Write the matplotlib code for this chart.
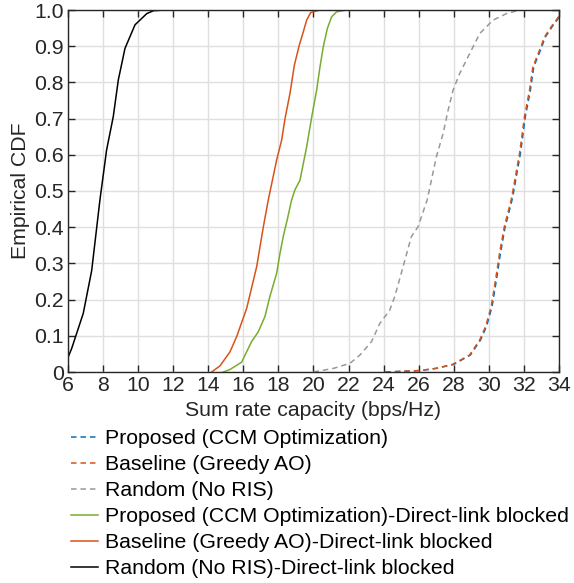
#!/usr/bin/env python3

''' Empirical CDF of sum rate capacity '''
import numpy as np
import matplotlib
matplotlib.use('Agg')
from matplotlib import pyplot as plt

plt.rcParams['font.family'] = ['Liberation Sans', 'DejaVu Sans']

# Curves (x in bps/Hz, y = empirical CDF)
prop_x = [24.1, 26.1, 27.0, 28.0, 28.95, 29.52, 29.86, 30.18, 30.43, 30.66, 30.93,
          31.32, 31.42, 31.80, 32.08, 32.37, 32.56, 32.94, 33.23, 33.61, 33.89, 34.08]
prop_y = [0.0, 0.004, 0.01, 0.021, 0.047, 0.088, 0.125, 0.18, 0.254, 0.328, 0.401,
          0.475, 0.50, 0.604, 0.705, 0.779, 0.843, 0.889, 0.926, 0.954, 0.972, 0.986]

base_x = [24.1, 26.05, 26.98, 27.93, 28.9, 29.47, 29.81, 30.13, 30.38, 30.61, 30.88,
          31.27, 31.37, 31.75, 32.03, 32.32, 32.51, 32.89, 33.18, 33.56, 33.84, 34.04]
base_y = [0.0, 0.004, 0.01, 0.021, 0.047, 0.088, 0.125, 0.18, 0.254, 0.328, 0.401,
          0.475, 0.50, 0.604, 0.705, 0.779, 0.843, 0.889, 0.926, 0.954, 0.972, 0.986]

rand_x = [20.0, 21.14, 22.08, 22.65, 23.31, 23.78, 24.35, 24.63, 25.11, 25.58, 25.96,
          26.48, 27.01, 27.39, 27.68, 27.96, 28.34, 28.91, 29.48, 30.24, 31.0, 31.77]
rand_y = [0.0, 0.01, 0.024, 0.047, 0.084, 0.134, 0.171, 0.208, 0.291, 0.374, 0.401,
          0.475, 0.595, 0.659, 0.724, 0.779, 0.825, 0.88, 0.935, 0.972, 0.99, 1.0]

prop_blk_x = [14.86, 15.24, 15.9, 16.19, 16.47, 16.85, 17.23, 17.51, 17.9, 18.09, 18.3,
              18.5, 18.75, 18.94, 19.23, 19.61, 19.9, 20.18, 20.37, 20.56, 20.79,
              21.03, 21.32, 21.89]
prop_blk_y = [0.0, 0.007, 0.027, 0.056, 0.084, 0.111, 0.153, 0.208, 0.273, 0.328, 0.38,
              0.42, 0.475, 0.503, 0.53, 0.622, 0.705, 0.779, 0.843, 0.899, 0.949,
              0.981, 0.995, 1.0]

base_blk_x = [14.19, 14.67, 15.24, 15.62, 16.19, 16.76, 17.14, 17.42, 17.9, 18.18,
              18.38, 18.66, 18.91, 19.19, 19.42, 19.61, 19.84, 20.37]
base_blk_y = [0.0, 0.017, 0.056, 0.098, 0.176, 0.291, 0.401, 0.475, 0.586, 0.64,
              0.701, 0.77, 0.848, 0.903, 0.94, 0.972, 0.993, 1.0]

rand_blk_x = [6.0, 6.21, 6.87, 7.35, 7.82, 8.2, 8.58, 8.87, 9.25, 9.82, 10.49, 10.87, 11.53]
rand_blk_y = [0.04, 0.065, 0.162, 0.28, 0.475, 0.613, 0.705, 0.807, 0.894, 0.959, 0.99,
              0.998, 1.0]

labels = ['Proposed (CCM Optimization)',
          'Baseline (Greedy AO)',
          'Random (No RIS)',
          'Proposed (CCM Optimization)-Direct-link blocked',
          'Baseline (Greedy AO)-Direct-link blocked',
          'Random (No RIS)-Direct-link blocked']

fs = 15.3
fig = plt.figure(figsize=(5.74, 5.83), dpi=100)
ax = fig.add_axes([68/574, 1-372/583, 491/574, 362/583])

lw = 1.1
dash = (0, (3.6, 2.6))
ax.plot(prop_x, prop_y, color='#0072BD', lw=lw, linestyle=dash, label=labels[0])
ax.plot(base_x, base_y, color='#D95319', lw=lw, linestyle=dash, label=labels[1])
ax.plot(rand_x, rand_y, color='#999999', lw=lw, linestyle=dash, label=labels[2])
ax.plot(prop_blk_x, prop_blk_y, color='#77AC30', lw=lw, label=labels[3])
ax.plot(base_blk_x, base_blk_y, color='#D95319', lw=lw, label=labels[4])
ax.plot(rand_blk_x, rand_blk_y, color='#000000', lw=lw, label=labels[5])

ax.set_xlim(6, 34)
ax.set_ylim(0, 1)
ax.set_xticks(np.arange(6, 35, 2))
ax.set_yticks(np.arange(0, 1.01, 0.1))
ax.set_yticklabels(['0'] + [f'{v:.1f}' for v in np.arange(0.1, 1.01, 0.1)])
ax.grid(True, color='#dfdfdf', lw=1)
ax.set_axisbelow(True)
ax.tick_params(direction='in', top=True, right=True, length=5, width=1,
               colors='#262626', labelsize=fs, pad=3)
for sp in ax.spines.values():
    sp.set_color('#262626')
    sp.set_linewidth(1)
ax.set_xlabel('Sum rate capacity (bps/Hz)', fontsize=fs, color='#262626', labelpad=4)
ax.set_ylabel('Empirical CDF', fontsize=fs, color='#262626', labelpad=3)

fig.legend(loc='upper left', bbox_to_anchor=(71/574, 1-429/583), frameon=False,
           fontsize=fs, handlelength=1.27, handletextpad=0.33, labelspacing=0.33,
           borderpad=0, borderaxespad=0)

fig.savefig('out.png', dpi=100)
